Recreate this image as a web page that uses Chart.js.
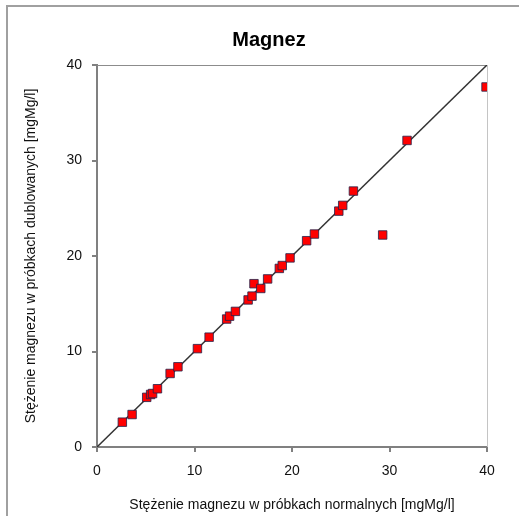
<!DOCTYPE html>
<html>
<head>
<meta charset="utf-8">
<script src="https://cdn.jsdelivr.net/npm/chart.js@4"></script>
<style>
  html, body { margin: 0; padding: 0; background: #fff; }
  #wrap { position: relative; width: 519px; height: 516px; }
  #frame { position: absolute; left: 6px; top: 5px; right: 0; bottom: 0;
           border-left: 2px solid #a0a0a0; border-top: 2px solid #a0a0a0; }
  canvas { position: absolute; left: 0; top: 0; }
</style>
</head>
<body>
<div id="wrap">
  <div id="frame"></div>
  <canvas id="chart" width="519" height="516"></canvas>
</div>
<script>
// samples: normal vs duplicate concentration
const normalVals = [2.6, 3.6, 5.1, 5.5, 5.7, 6.2, 7.5, 8.3, 10.3, 11.5, 13.3, 13.6, 14.2, 15.5, 15.9,
  16.1, 16.8, 17.5, 18.7, 19.0, 19.8, 21.5, 22.3, 24.8, 25.2, 26.3, 29.3, 31.8, 39.9];
const duplicateVals = [2.6, 3.4, 5.2, 5.5, 5.6, 6.1, 7.7, 8.4, 10.3, 11.5, 13.4, 13.7, 14.2, 15.4, 15.8,
  17.1, 16.6, 17.6, 18.7, 19.0, 19.8, 21.6, 22.3, 24.7, 25.3, 26.8, 22.2, 32.1, 37.7];
// reference line y = x
const lineX = [0, 40];
const lineY = [0, 40];
const axisTicks = [0, 10, 20, 30, 40];

const points = normalVals.map((x, i) => ({ x: x, y: duplicateVals[i] }));
const diag = lineX.map((x, i) => ({ x: x, y: lineY[i] }));

const font = { family: "Liberation Sans, Arial", size: 14 };

// top and right border of the plot area
const plotFrame = {
  id: "plotFrame",
  beforeDatasetsDraw(chart) {
    const { ctx, chartArea: a } = chart;
    ctx.save();
    ctx.lineWidth = 1;
    ctx.strokeStyle = "#8c8c8c";
    ctx.beginPath();
    ctx.moveTo(a.left, a.top + 0.5);
    ctx.lineTo(a.right, a.top + 0.5);
    ctx.stroke();
    ctx.strokeStyle = "#c4c4c4";
    ctx.beginPath();
    ctx.moveTo(a.right + 0.5, a.top);
    ctx.lineTo(a.right + 0.5, a.bottom);
    ctx.stroke();
    ctx.restore();
  }
};

new Chart(document.getElementById("chart"), {
  type: "scatter",
  data: {
    datasets: [
      {
        data: points,
        pointStyle: "rect",
        pointRadius: 6,
        backgroundColor: "#ff0000",
        borderColor: "#22224a",
        borderWidth: 0.8,
        order: 0
      },
      {
        type: "line",
        data: diag,
        borderColor: "#333333",
        borderWidth: 1.5,
        pointRadius: 0,
        fill: false,
        order: 1
      }
    ]
  },
  options: {
    responsive: false,
    animation: false,
    // left padding chosen so the title centres where the original does
    layout: { padding: { left: 51, right: 32, top: 28, bottom: 0 } },
    plugins: {
      legend: { display: false },
      tooltip: { enabled: false },
      title: {
        display: true,
        text: "Magnez",
        color: "#000",
        font: { family: "Liberation Sans, Arial", size: 20, weight: "bold" },
        padding: { top: 0, bottom: 13 }
      }
    },
    scales: {
      x: {
        type: "linear",
        min: 0, max: 40,
        afterBuildTicks: s => { s.ticks = axisTicks.map(v => ({ value: v })); },
        afterFit: s => { s.height = 69; },
        ticks: { color: "#111", font: font, padding: 11, maxRotation: 0 },
        grid: { drawOnChartArea: false, tickLength: 5, color: "#808080", lineWidth: 2 },
        border: { color: "#808080", width: 2 },
        title: {
          display: true,
          text: "Stężenie magnezu w próbkach normalnych [mgMg/l]",
          color: "#111",
          font: font,
          padding: { top: 0, bottom: 2 }
        }
      },
      y: {
        type: "linear",
        min: 0, max: 40,
        afterBuildTicks: s => { s.ticks = axisTicks.map(v => ({ value: v })); },
        afterFit: s => { s.width = 46; },
        ticks: { color: "#111", font: font, padding: 10 },
        grid: { drawOnChartArea: false, tickLength: 5, color: "#808080", lineWidth: 2 },
        border: { color: "#808080", width: 2 },
        title: {
          display: true,
          text: "Stężenie magnezu w próbkach dublowanych [mgMg/l]",
          color: "#111",
          font: font,
          padding: { top: -28, bottom: 0 }
        }
      }
    }
  },
  plugins: [plotFrame]
});
</script>
</body>
</html>
